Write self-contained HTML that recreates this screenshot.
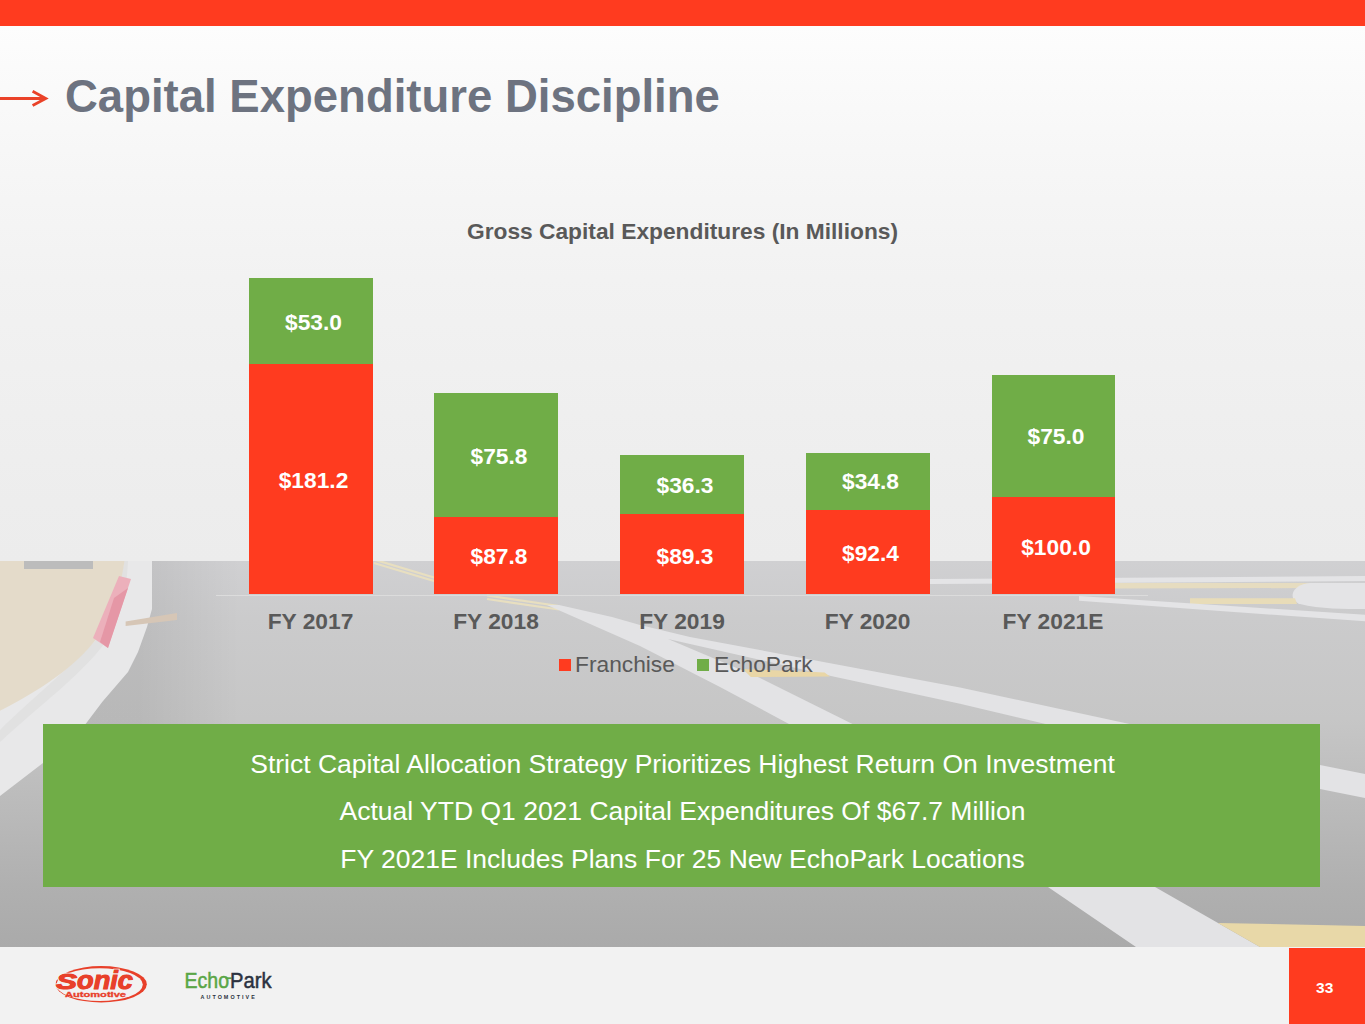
<!DOCTYPE html>
<html><head><meta charset="utf-8">
<style>
html,body{margin:0;padding:0;}
body{width:1365px;height:1024px;position:relative;overflow:hidden;font-family:"Liberation Sans",sans-serif;background:#f2f2f2;}
.abs{position:absolute;}
#topbar{left:0;top:0;width:1365px;height:26px;background:#ff3b1f;}
#sky{left:0;top:26px;width:1365px;height:535px;background:linear-gradient(#fdfdfd 0%,#f7f7f7 23%,#f2f2f2 47%,#ededed 89%,#ececec 100%);}
#road{left:0;top:561px;width:1365px;height:386px;}
#footer{left:0;top:947px;width:1365px;height:77px;background:#f2f2f2;}
#pagebox{left:1289px;top:948px;width:76px;height:76px;background:#ff3b1f;}
#pgnum{left:1289px;top:977.5px;width:71.4px;text-align:center;color:#fff;font-weight:bold;font-size:15.5px;line-height:20px;}
#title{left:65px;top:73.5px;font-size:45.5px;font-weight:bold;color:#6d7380;white-space:nowrap;line-height:1;}
#ctitle{left:0;width:1365px;top:220px;text-align:center;font-size:22.76px;font-weight:bold;color:#595959;white-space:nowrap;line-height:1;}
.bar{position:absolute;}
.g{background:#70ad47;}
.r{background:#ff3b1f;}
.lbl{position:absolute;width:160px;text-align:center;font-size:22.76px;font-weight:bold;color:#fff;line-height:1;white-space:nowrap;}
.xl{position:absolute;width:160px;text-align:center;font-size:22.76px;font-weight:bold;color:#595959;line-height:1;white-space:nowrap;}
.leg{position:absolute;margin-top:-2.5px;font-size:22.76px;color:#595959;line-height:1;white-space:nowrap;}
.sq{position:absolute;width:12px;height:12px;}
#gbox{left:43px;top:724px;width:1277px;height:162.5px;background:#70ad47;}
.gl{position:absolute;left:0;width:1365px;text-align:center;font-size:26.5px;color:#fff;line-height:1;white-space:nowrap;}
</style></head>
<body>
<div id="topbar" class="abs"></div>
<div id="sky" class="abs"></div>
<svg id="road" class="abs" width="1365" height="386" viewBox="0 561 1365 386">
  <defs>
    <linearGradient id="asph" x1="0" y1="561" x2="0" y2="947" gradientUnits="userSpaceOnUse">
      <stop offset="0" stop-color="#d0d0d2"/>
      <stop offset="0.15" stop-color="#cbcbcc"/>
      <stop offset="0.41" stop-color="#c6c6c6"/>
      <stop offset="0.84" stop-color="#b0b0b0"/>
      <stop offset="1" stop-color="#aaaaaa"/>
    </linearGradient>
    <linearGradient id="tire" x1="140" y1="0" x2="240" y2="0" gradientUnits="userSpaceOnUse">
      <stop offset="0" stop-color="#000" stop-opacity="0.07"/>
      <stop offset="1" stop-color="#000" stop-opacity="0"/>
    </linearGradient>
  </defs>
  <rect x="0" y="561" width="1365" height="386" fill="url(#asph)"/>
  <rect x="0" y="561" width="260" height="163" fill="url(#tire)"/>
  <!-- far right lines -->
  <polygon points="930,579 1365,576 1365,581 930,584" fill="#e4e4e6"/>
  <polygon points="1115,583 1312,583 1312,588 1115,588.6" fill="#e6dcc0"/>
  <path d="M1365,583 L1310,583 C1290,585 1288,600 1300,604 C1320,609 1345,609 1365,609 Z" fill="#e4e4e6"/>
  <polygon points="1190,598.3 1295,598.3 1297,604 1190,604" fill="#e8dcb8"/>
  <polygon points="1079,596 1365,614.8 1365,621.3 1079,600.8" fill="#e4e4e6"/>
  <!-- yellow double lines -->
  <path d="M374,559.5 L434,577.5 M374,563 L434,581 M487,595.5 L559,606 M487,599 L559,609.5" stroke="#e8dfc0" stroke-width="2.2" fill="none"/>
  <!-- stripes -->
  <polygon points="547,605 559,605 612,617 640,625 690,637 960,687.5 1320,765 1365,774 1365,798 1320,789 960,703.8 831,676 668,639 759,677.6 852.5,724 1155,887 1260,947 1136,947 1048,887 789,724 720,687 640,646" fill="#e3e3e5"/>
  <polygon points="742.8,669 824.6,672.5 829.9,676.5 750.8,677" fill="#e9d6a6"/>
  <polygon points="1218,923 1365,926 1365,947 1260,947" fill="#e8d8a8"/>
  <!-- left curb and sand -->
  <polygon points="0,561 152,561 152,609 147,627 138,652 128,672 102.6,701.5 86,723.5 43,763 0,796" fill="#e8e8e9"/>
  <path d="M128,561 C126,600 120,620 104,644 C80,676 40,705 0,742 L0,730 C30,700 70,668 96,640 C112,618 118,590 124.5,561 Z" fill="#e1e1e1"/>
  <path d="M124.5,561 C120,590 113,612 100,634 C80,662 50,685 0,710.7 L0,561 Z" fill="#e4dbca"/>
  <polygon points="24,561 93,561 93,569 24,569" fill="#bcbcbc"/>
  <polygon points="119,576 131,579 108,648 93,638" fill="#ecb0bb"/>
  <polygon points="114,598 128,588 108,648 100,642" fill="#e597a6"/>
  <polygon points="125.6,621.5 177,613 177,620 125.6,626" fill="#d6c6b6"/>
</svg>
<div id="footer" class="abs"></div>
<div id="pagebox" class="abs"></div>
<div id="pgnum" class="abs">33</div>
<svg class="abs" style="left:40px;top:955px" width="260" height="60" viewBox="40 955 260 60">
  <ellipse cx="101.2" cy="984.3" rx="45.6" ry="18.2" fill="#e8402a"/>
  <ellipse cx="99.6" cy="984.6" rx="43.2" ry="16.4" fill="#f2f2f2"/>
  <g font-family="Liberation Sans" font-weight="bold" font-style="italic" fill="#e8402a">
    <text x="56" y="989.4" font-size="22.5" stroke="#f2f2f2" stroke-width="2.6" paint-order="stroke" textLength="21" lengthAdjust="spacingAndGlyphs">S</text>
    <text x="77" y="989.4" font-size="25.5" stroke="#f2f2f2" stroke-width="2.6" paint-order="stroke" textLength="56" lengthAdjust="spacingAndGlyphs">onic</text>
    <text x="56" y="989.4" font-size="22.5" stroke="#e8402a" stroke-width="1" textLength="21" lengthAdjust="spacingAndGlyphs">S</text>
    <text x="77" y="989.4" font-size="25.5" stroke="#e8402a" stroke-width="1" textLength="56" lengthAdjust="spacingAndGlyphs">onic</text>
  </g>
  <text x="65" y="996.8" font-family="Liberation Sans" font-weight="bold" font-size="7.2" fill="#e8402a" stroke="#e8402a" stroke-width="0.3" textLength="61" lengthAdjust="spacingAndGlyphs">Automotive</text>
  <text x="184.5" y="987.8" font-family="Liberation Sans" font-size="22" fill="#5aa646" stroke="#5aa646" stroke-width="0.5" textLength="44.5" lengthAdjust="spacingAndGlyphs">Echo</text>
  <path d="M225.5 978.2 H231.5" stroke="#5aa646" stroke-width="1.8"/>
  <text x="230" y="987.8" font-family="Liberation Sans" font-size="22" fill="#2b3240" stroke="#2b3240" stroke-width="0.5" textLength="41.5" lengthAdjust="spacingAndGlyphs">Park</text>
  <text x="200.5" y="999.2" font-family="Liberation Sans" font-weight="bold" font-size="5.4" fill="#2b3240" letter-spacing="2.05">AUTOMOTIVE</text>
</svg>

<!-- title arrow -->
<svg class="abs" style="left:0;top:85px" width="60" height="30" viewBox="0 85 60 30">
  <path d="M0 98.5 H45 M32.6 91.2 L45.8 98.5 L32.6 105.6" stroke="#ea4228" stroke-width="2.8" fill="none" stroke-linejoin="miter"/>
</svg>
<div id="title" class="abs">Capital Expenditure Discipline</div>
<div id="ctitle" class="abs">Gross Capital Expenditures (In Millions)</div>

<div class="abs" style="left:216px;top:594.5px;width:932px;height:1.2px;background:#dcdcdc"></div>
<!-- bars -->
<div class="bar g" style="left:249px;top:278px;width:123.5px;height:86.2px"></div>
<div class="bar r" style="left:249px;top:364.2px;width:123.5px;height:230.1px"></div>
<div class="bar g" style="left:434px;top:393px;width:123.5px;height:123.5px"></div>
<div class="bar r" style="left:434px;top:516.5px;width:123.5px;height:77.8px"></div>
<div class="bar g" style="left:620px;top:455.4px;width:123.5px;height:58.6px"></div>
<div class="bar r" style="left:620px;top:514px;width:123.5px;height:80.3px"></div>
<div class="bar g" style="left:806px;top:453px;width:123.5px;height:56.5px"></div>
<div class="bar r" style="left:806px;top:509.5px;width:123.5px;height:84.8px"></div>
<div class="bar g" style="left:991.5px;top:374.8px;width:123.5px;height:121.9px"></div>
<div class="bar r" style="left:991.5px;top:496.7px;width:123.5px;height:97.6px"></div>

<!-- data labels -->
<div class="lbl" style="left:233.5px;top:310.5px">$53.0</div>
<div class="lbl" style="left:233.5px;top:469px">$181.2</div>
<div class="lbl" style="left:419px;top:444.5px">$75.8</div>
<div class="lbl" style="left:419px;top:545.4px">$87.8</div>
<div class="lbl" style="left:605px;top:474.3px">$36.3</div>
<div class="lbl" style="left:605px;top:544.6px">$89.3</div>
<div class="lbl" style="left:790.5px;top:470px">$34.8</div>
<div class="lbl" style="left:790.5px;top:541.5px">$92.4</div>
<div class="lbl" style="left:976px;top:425px">$75.0</div>
<div class="lbl" style="left:976px;top:536px">$100.0</div>

<!-- axis labels -->
<div class="xl" style="left:230.5px;top:610px">FY 2017</div>
<div class="xl" style="left:416px;top:610px">FY 2018</div>
<div class="xl" style="left:602px;top:610px">FY 2019</div>
<div class="xl" style="left:787.5px;top:610px">FY 2020</div>
<div class="xl" style="left:973px;top:610px">FY 2021E</div>

<!-- legend -->
<div class="sq" style="left:559px;top:659px;background:#ff3b1f"></div>
<div class="leg" style="left:575px;top:655px">Franchise</div>
<div class="sq" style="left:697px;top:659px;background:#70ad47"></div>
<div class="leg" style="left:714px;top:655px">EchoPark</div>

<!-- green box -->
<div id="gbox" class="abs"></div>
<div class="gl" style="top:751px">Strict Capital Allocation Strategy Prioritizes Highest Return On Investment</div>
<div class="gl" style="top:798px">Actual YTD Q1 2021 Capital Expenditures Of $67.7 Million</div>
<div class="gl" style="top:846px">FY 2021E Includes Plans For 25 New EchoPark Locations</div>

</body></html>
